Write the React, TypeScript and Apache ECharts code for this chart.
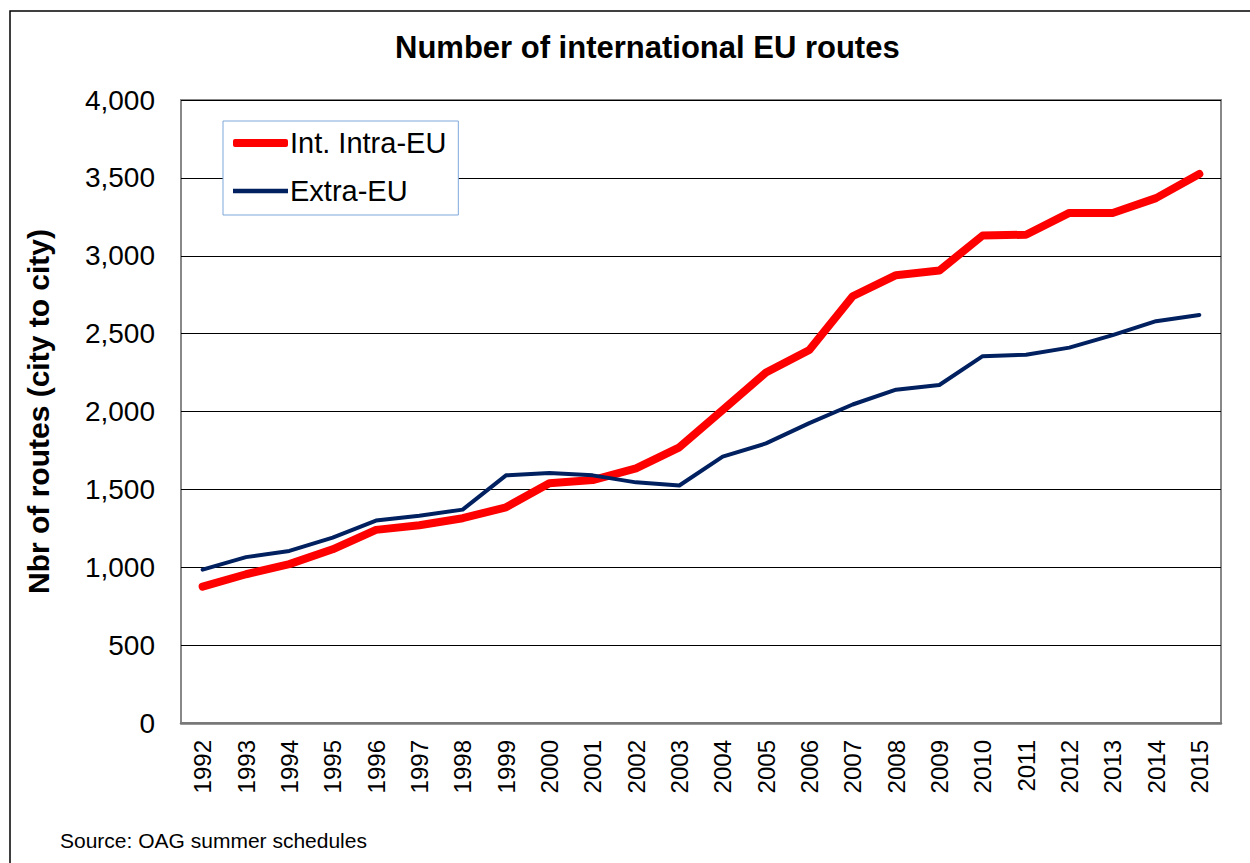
import React, { useEffect, useRef } from "react";
import * as echarts from "echarts";

const years = ["1992","1993","1994","1995","1996","1997","1998","1999","2000","2001","2002","2003","2004","2005","2006","2007","2008","2009","2010","2011","2012","2013","2014","2015"];
const intraEU = [875, 955, 1020, 1115, 1240, 1270, 1315, 1385, 1540, 1560, 1635, 1770, 2010, 2250, 2395, 2740, 2875, 2905, 3130, 3135, 3275, 3275, 3370, 3525];
const extraEU = [985, 1065, 1105, 1190, 1300, 1330, 1370, 1590, 1605, 1590, 1545, 1525, 1710, 1795, 1925, 2045, 2140, 2170, 2355, 2365, 2410, 2490, 2580, 2620];

const FONT = "Liberation Sans, Arial, sans-serif";

export default function App() {
  const ref = useRef<HTMLDivElement>(null);
  useEffect(() => {
    if (!ref.current) return;
    const chart = echarts.init(ref.current, null, { renderer: "svg" });
    chart.setOption({
      animation: false,
      backgroundColor: "#ffffff",
      textStyle: { fontFamily: FONT },
      title: {
        text: "Number of international EU routes",
        left: 390,
        top: 27,
        textStyle: { fontFamily: FONT, fontSize: 31, fontWeight: "bold", color: "#000" },
      },
      legend: {
        orient: "vertical",
        left: 223,
        top: 121,
        padding: [7, 12, 9, 10],
        itemGap: 18,
        itemWidth: 55,
        itemHeight: 8,
        borderColor: "#7FA7DB",
        borderWidth: 1,
        backgroundColor: "#ffffff",
        textStyle: { fontFamily: FONT, fontSize: 29, lineHeight: 30, color: "#000", padding: [0, 0, 0, -3] },
        data: [
          { name: "Int. Intra-EU", icon: "roundRect" },
          { name: "Extra-EU", icon: "path://M0,0 L0.01,0 L0.01,8 L0,8 Z M0,1.8 L55,1.8 L55,6.2 L0,6.2 Z" },
        ],
      },
      grid: {
        left: 181,
        right: 29,
        top: 100,
        bottom: 140,
        show: true,
        borderColor: "#888888",
        borderWidth: 2,
        containLabel: false,
      },
      xAxis: {
        type: "category",
        data: years,
        boundaryGap: true,
        axisLine: { show: true, lineStyle: { color: "#777777", width: 2.5 } },
        axisTick: { show: false },
        axisLabel: { rotate: 90, fontSize: 24, color: "#000", margin: 17, fontFamily: FONT },
      },
      yAxis: {
        type: "value",
        min: 0,
        max: 4000,
        interval: 500,
        name: "Nbr of routes (city to city)",
        nameLocation: "middle",
        nameRotate: 90,
        nameGap: 128,
        nameTextStyle: { fontFamily: FONT, fontSize: 30, fontWeight: "bold", color: "#000" },
        axisLine: { show: false },
        axisTick: { show: false },
        splitLine: { show: true, lineStyle: { color: "#000000", width: 1 } },
        axisLabel: {
          fontSize: 28,
          color: "#000",
          margin: 26,
          fontFamily: FONT,
          formatter: (v: number) => v.toLocaleString("en-US"),
        },
      },
      series: [
        {
          name: "Int. Intra-EU",
          type: "line",
          data: intraEU,
          symbol: "none",
          lineStyle: { color: "#FF0000", width: 8, cap: "round", join: "round" },
          itemStyle: { color: "#FF0000" },
          z: 3,
        },
        {
          name: "Extra-EU",
          type: "line",
          data: extraEU,
          symbol: "none",
          lineStyle: { color: "#002060", width: 4, cap: "round", join: "round" },
          itemStyle: { color: "#002060" },
          z: 4,
        },
      ],
      graphic: [
        {
          type: "rect",
          shape: { x: 10, y: 11, width: 1260, height: 900 },
          style: { fill: "none", stroke: "#000", lineWidth: 1.5 },
          silent: true,
        },
        {
          type: "text",
          left: 60,
          top: 830,
          style: { text: "Source: OAG summer schedules", fontSize: 21, fontFamily: FONT, fill: "#000" },
        },
      ],
    });
    return () => chart.dispose();
  }, []);
  return (
    <div
      ref={ref}
      style={{ position: "fixed", left: 0, top: 0, width: 1250, height: 863 }}
    />
  );
}
